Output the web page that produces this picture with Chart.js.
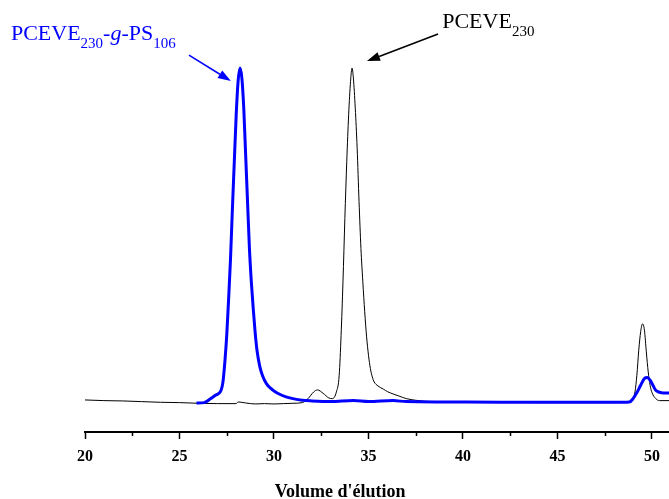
<!DOCTYPE html>
<html>
<head>
<meta charset="utf-8">
<script src="https://cdn.jsdelivr.net/npm/chart.js@4"></script>
<style>
  html,body{margin:0;padding:0;background:#fff;}
  #wrap{width:669px;height:499px;position:relative;}
</style>
</head>
<body>
<div id="wrap"><canvas id="c"></canvas></div>
<script>
// Data (x = elution volume, y = detector response, arbitrary units)
const pceveX = [20, 21, 22, 23, 24, 25, 26, 27, 28, 28.1, 28.5, 29, 29.5, 30, 30.5, 31, 31.5, 31.8, 32.1, 32.3, 32.6, 32.9, 33.1, 33.3, 33.45, 33.55, 33.65, 33.75, 33.85, 33.95, 34.05, 34.13, 34.2, 34.3, 34.4, 34.5, 34.6, 34.7, 34.8, 34.9, 35.0, 35.1, 35.2, 35.3, 35.5, 35.8, 36.0, 36.3, 36.6, 37, 37.5, 38, 39, 40, 42, 44, 46, 48, 48.9, 49.1, 49.2, 49.3, 49.4, 49.5, 49.6, 49.7, 49.8, 49.9, 50.0, 50.2, 50.4, 50.9];
const pceveY = [0.6, 0.4, 0.3, 0.1, -0.1, -0.2, -0.4, -0.5, -0.5, 0.0, -0.3, -0.6, -0.5, -0.6, -0.5, -0.4, -0.2, 1.0, 3.0, 3.6, 2.6, 1.2, 1.0, 3.0, 8, 20, 36, 55, 72, 86, 96, 100, 97, 88, 76, 60, 46, 36, 27, 19.5, 14, 10, 7.5, 6.0, 4.8, 3.8, 3.1, 2.4, 1.8, 1.0, 0.5, 0.2, 0, 0, -0.1, -0.2, -0.2, -0.2, 0, 3, 8, 15.5, 21, 23.4, 21.5, 15, 9, 5, 2.8, 1.0, 0.4, 0.4];

const graftX = [25.9, 26.3, 26.6, 26.9, 27.2, 27.3, 27.4, 27.5, 27.6, 27.7, 27.8, 27.9, 28.0, 28.1, 28.2, 28.3, 28.4, 28.5, 28.6, 28.7, 28.8, 28.9, 29.0, 29.1, 29.25, 29.4, 29.6, 29.8, 30.0, 30.3, 30.6, 31.0, 31.5, 32, 33, 34.2, 35, 36.3, 37, 39, 42, 45, 48, 48.8, 49.0, 49.2, 49.4, 49.6, 49.75, 49.9, 50.05, 50.2, 50.4, 50.6, 50.9];
const graftY = [-0.3, -0.2, 0.8, 2.0, 3.5, 6, 12, 20, 31, 43, 58, 72, 86, 96, 100, 97, 88, 74, 60, 46, 36, 28, 21, 15.5, 10.6, 7.8, 5.5, 4.2, 3.3, 2.3, 1.6, 1.0, 0.5, 0.3, 0.1, 0.4, 0.1, 0.4, 0.1, 0, -0.1, -0.1, -0.1, 0, 1.0, 2.8, 5.0, 7.0, 7.3, 6.5, 5.0, 3.5, 2.9, 2.7, 2.7];

const majorTicks = [20, 25, 30, 35, 40, 45, 50];
const minorTicks = [22.5, 27.5, 32.5, 37.5, 42.5, 47.5];

const serif = '"Liberation Serif", "Times New Roman", serif';
const BLUE = '#0000ff';

// draw a run of text pieces; sub pieces are smaller and lowered
function drawRich(ctx, x, y, parts, color){
  ctx.save();
  ctx.fillStyle = color;
  ctx.textBaseline = 'alphabetic';
  ctx.textAlign = 'left';
  parts.forEach(p=>{
    ctx.font = (p.italic ? 'italic ' : '') + (p.sub ? '15px ' : '22px ') + serif;
    ctx.fillText(p.t, x, y + (p.sub ? 8 : 0));
    x += ctx.measureText(p.t).width;
  });
  ctx.restore();
}

function arrow(ctx, x0, y0, x1, y1, color){
  const a = Math.atan2(y1 - y0, x1 - x0), L = 13, W = 4.5;
  ctx.save();
  ctx.strokeStyle = color; ctx.fillStyle = color; ctx.lineWidth = 1.5;
  ctx.beginPath();
  ctx.moveTo(x0, y0);
  ctx.lineTo(x1 - L * Math.cos(a), y1 - L * Math.sin(a));
  ctx.stroke();
  ctx.beginPath();
  ctx.moveTo(x1, y1);
  ctx.lineTo(x1 - L * Math.cos(a) + W * Math.sin(a), y1 - L * Math.sin(a) - W * Math.cos(a));
  ctx.lineTo(x1 - L * Math.cos(a) - W * Math.sin(a), y1 - L * Math.sin(a) + W * Math.cos(a));
  ctx.closePath();
  ctx.fill();
  ctx.restore();
}

const extras = {
  id: 'extras',
  afterDraw(chart){
    const {ctx, scales:{x, y}} = chart;
    // minor ticks
    ctx.save();
    ctx.strokeStyle = '#000'; ctx.lineWidth = 1.5;
    minorTicks.forEach(v=>{
      const px = Math.round(x.getPixelForValue(v)) + 0.5;
      ctx.beginPath(); ctx.moveTo(px, x.top); ctx.lineTo(px, x.top + 4); ctx.stroke();
    });
    // axis title
    ctx.fillStyle = '#000';
    ctx.font = 'bold 18px ' + serif;
    ctx.textAlign = 'center'; ctx.textBaseline = 'alphabetic';
    ctx.fillText("Volume d'élution", x.getPixelForValue(33.5), 497);
    ctx.restore();

    // labels + arrows (anchored in data units)
    drawRich(ctx, x.getPixelForValue(16.08), y.getPixelForValue(108.3), [
      {t:'PCEVE'}, {t:'230', sub:true}, {t:'-'}, {t:'g', italic:true}, {t:'-PS'}, {t:'106', sub:true}
    ], BLUE);
    drawRich(ctx, x.getPixelForValue(38.9), y.getPixelForValue(112), [
      {t:'PCEVE'}, {t:'230', sub:true}
    ], '#000');
    arrow(ctx, x.getPixelForValue(25.5), y.getPixelForValue(103.9), x.getPixelForValue(27.72), y.getPixelForValue(96.1), BLUE);
    arrow(ctx, x.getPixelForValue(38.68), y.getPixelForValue(110.2), x.getPixelForValue(34.92), y.getPixelForValue(102.1), '#000');
  }
};

const toPts = (xs, ys) => xs.map((v, i) => ({x: v, y: ys[i]}));

new Chart(document.getElementById('c'), {
  type: 'line',
  data: {
    datasets: [
      { label: 'PCEVE230-g-PS106', data: toPts(graftX, graftY), borderColor: BLUE, borderWidth: 3,
        pointRadius: 0, cubicInterpolationMode: 'monotone', fill: false },
      { label: 'PCEVE230', data: toPts(pceveX, pceveY), borderColor: '#000', borderWidth: 1,
        pointRadius: 0, cubicInterpolationMode: 'monotone', fill: false }
    ]
  },
  options: {
    responsive: true,
    maintainAspectRatio: false,
    animation: false,
    layout: { padding: { left: 85, top: 18, right: 0, bottom: 0 } },
    plugins: { legend: { display: false }, tooltip: { enabled: false } },
    scales: {
      x: {
        type: 'linear', min: 20, max: 50.9,
        afterBuildTicks: s => { s.ticks = majorTicks.map(v => ({value: v})); },
        afterFit: s => { s.height = 67; },
        grid: { display: true, drawOnChartArea: false, tickLength: 7, tickWidth: 1.5, tickColor: '#000' },
        border: { display: true, color: '#000', width: 2 },
        ticks: { color: '#000', padding: 8, maxRotation: 0, autoSkip: false,
          font: { family: serif, size: 16, weight: 'bold' } }
      },
      y: { display: false, min: -9, max: 115 }
    }
  },
  plugins: [extras]
});
</script>
</body>
</html>
